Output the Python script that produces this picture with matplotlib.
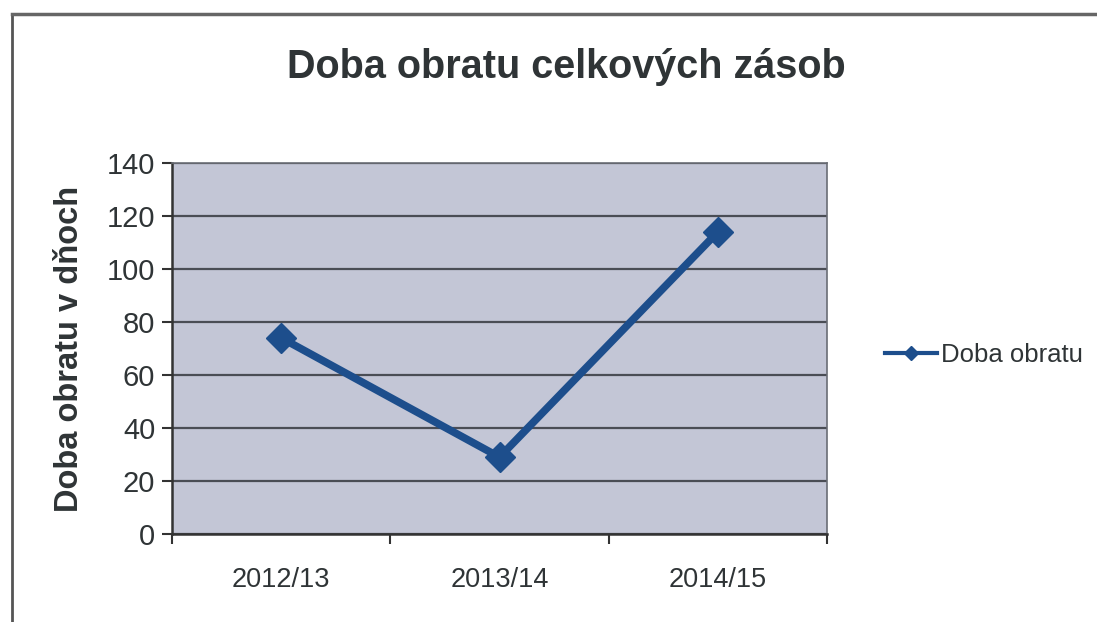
import matplotlib
matplotlib.use("Agg")
import matplotlib.pyplot as plt
from matplotlib.lines import Line2D

categories = ["2012/13", "2013/14", "2014/15"]
values = [74, 29, 114]
series_name = "Doba obratu"
title = "Doba obratu celkových zásob"
ylabel = "Doba obratu v dňoch"
yticks = [0, 20, 40, 60, 80, 100, 120, 140]

plt.rcParams['font.family'] = ['Liberation Sans', 'DejaVu Sans']
txt = '#2f3436'
line_c = '#1d4e8c'

fig = plt.figure(figsize=(10.97, 6.22), dpi=100)
ax = fig.add_axes([0.1568, 0.1415, 0.5971, 0.5964])
ax.set_facecolor('#c3c6d6')

x = list(range(len(categories)))
ax.plot(x, values, color=line_c, lw=5.5, marker='D', markersize=15,
        label=series_name, zorder=3)

ax.set_xlim(-0.5, len(categories) - 0.5)
ax.set_ylim(0, 140)
ax.set_yticks(yticks)
ax.set_yticklabels([str(v) for v in yticks], fontsize=21, color=txt)
ax.set_xticks(x)
ax.set_xticklabels(categories, fontsize=19.5, color=txt)
ax.set_xticks([i - 0.5 for i in range(len(categories) + 1)], minor=True)
ax.tick_params(axis='x', which='major', length=0, pad=24)
ax.tick_params(axis='x', which='minor', length=7, width=1.5, color='#333333', direction='out')
ax.tick_params(axis='y', length=7, width=1.5, color='#333333', pad=5)

ax.grid(axis='y', color='#4a4d55', lw=1.6, zorder=1)
ax.set_axisbelow(True)
for s in ['left', 'bottom']:
    ax.spines[s].set_color('#333333')
    ax.spines[s].set_linewidth(1.8)
for s in ['top', 'right']:
    ax.spines[s].set_color('#6a6d75')
    ax.spines[s].set_linewidth(1.2)

ax.set_ylabel(ylabel, fontsize=23.5, fontweight='bold', color=txt, labelpad=16)
fig.text(0.516, 0.893, title, fontsize=28.5, fontweight='bold', color=txt,
         ha='center', va='center')

handle = Line2D([], [], color=line_c, lw=3, marker='D', markersize=7)
fig.legend([handle], [series_name], loc='center left',
           bbox_to_anchor=(0.786, 0.43), frameon=False, fontsize=18.5,
           handlelength=2.0, handletextpad=0.15, labelcolor=txt)

# outer frame
fig.add_artist(Line2D([0.011, 0.011], [0.0, 0.977], transform=fig.transFigure,
                      color='#555555', lw=2))
fig.add_artist(Line2D([0.011, 1.0], [0.977, 0.977], transform=fig.transFigure,
                      color='#666666', lw=2.5))

fig.savefig('out.png', dpi=100, facecolor='white')
